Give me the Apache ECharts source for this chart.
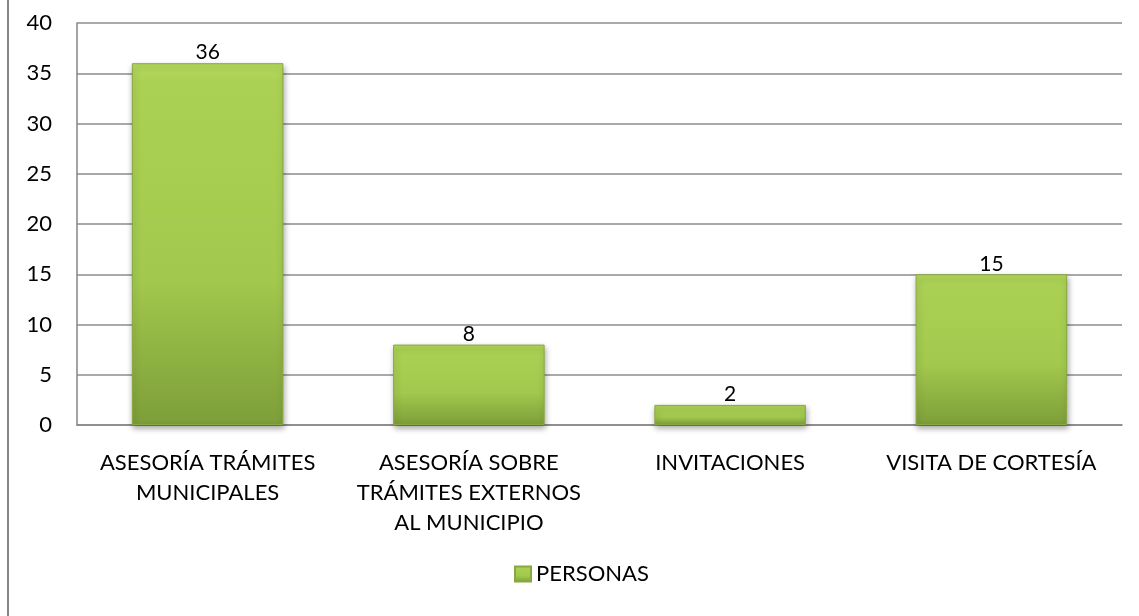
<!DOCTYPE html>
<html>
<head>
<meta charset="utf-8">
<script src="https://cdn.jsdelivr.net/npm/echarts@6/dist/echarts.min.js"></script>
<style>
  html, body { margin: 0; padding: 0; background: #fff; }
  #chart { width: 1139px; height: 616px; }
</style>
</head>
<body>
<div id="chart"></div>
<script>
// datos del gráfico
var categorias = ['ASESORÍA TRÁMITES\nMUNICIPALES', 'ASESORÍA SOBRE\nTRÁMITES EXTERNOS\nAL MUNICIPIO', 'INVITACIONES', 'VISITA DE CORTESÍA'];
var personas = [36, 8, 2, 15];
var serieNombre = 'PERSONAS';

var fuente = 'Lato, "Open Sans", sans-serif';
var verde = new echarts.graphic.LinearGradient(0, 0, 0, 1, [
    { offset: 0, color: '#b6da5e' },
    { offset: 0.05, color: '#abd154' },
    { offset: 0.6, color: '#a2c84d' },
    { offset: 1, color: '#7d9e39' }
]);

var myChart = echarts.init(document.getElementById('chart'));

var option = {
    animation: false,
    textStyle: { fontFamily: fuente },
    graphic: [{
        type: 'line',
        shape: { x1: 8, y1: 0, x2: 8, y2: 616 },
        style: { stroke: '#868686', lineWidth: 2 }
    }],
    legend: {
        data: [{ name: serieNombre, icon: 'rect' }],
        bottom: 26,
        left: 509,
        itemWidth: 16,
        itemHeight: 15,
        itemGap: 6,
        textStyle: { fontSize: 22, color: '#000', fontFamily: fuente }
    },
    grid: {
        left: 77,
        right: 17,
        top: 23,
        bottom: 191
    },
    xAxis: {
        type: 'category',
        data: categorias,
        axisLine: { lineStyle: { color: '#868686', width: 1.5 } },
        axisTick: { show: false },
        axisLabel: {
            color: '#000',
            fontSize: 22,
            lineHeight: 30,
            margin: 23,
            interval: 0,
            fontFamily: fuente
        }
    },
    yAxis: {
        type: 'value',
        min: 0,
        max: 40,
        interval: 5,
        axisLine: { show: true, lineStyle: { color: '#868686', width: 1.5 } },
        axisTick: { show: false },
        axisLabel: { color: '#000', fontSize: 22, margin: 25, fontFamily: fuente },
        splitLine: { lineStyle: { color: '#8c8c8c', width: 1.5 } }
    },
    series: [{
        name: serieNombre,
        type: 'bar',
        data: personas,
        barWidth: '58%',
        itemStyle: {
            color: verde,
            borderColor: '#87a840',
            borderWidth: 1,
            shadowColor: 'rgba(0,0,0,0.35)',
            shadowBlur: 6,
            shadowOffsetX: 1,
            shadowOffsetY: 3
        },
        label: {
            show: true,
            position: 'top',
            distance: 0,
            color: '#000',
            fontSize: 21,
            fontFamily: fuente
        }
    }]
};

myChart.setOption(option);
</script>
</body>
</html>
